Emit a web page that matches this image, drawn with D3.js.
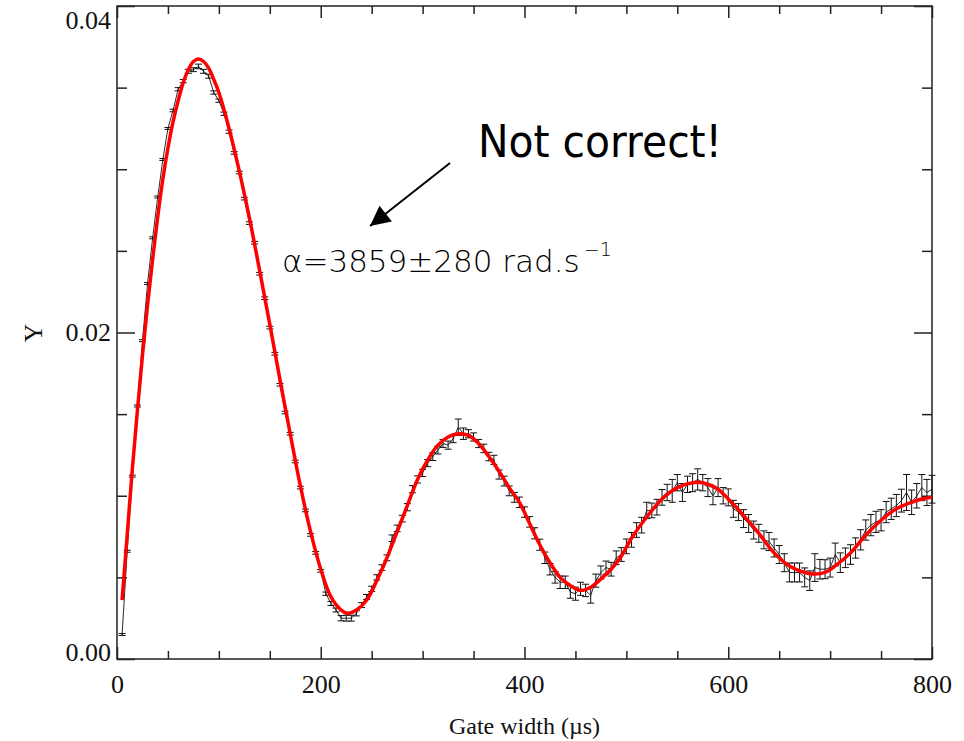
<!DOCTYPE html>
<html>
<head>
<meta charset="utf-8">
<script src="https://cdn.jsdelivr.net/npm/d3@7"></script>
<style>
  html, body { margin: 0; padding: 0; background: #fff; }
  svg { display: block; }
</style>
</head>
<body>
<svg id="chart" width="964" height="741"></svg>
<script>
// ---------------- DATA ----------------
const gateWidth = [
  5,10,15,20,25,30,35,40,45,50,55,60,65,70,75,80,85,90,95,100,
  105,110,115,120,125,130,135,140,145,150,155,160,165,170,175,180,185,190,195,200,
  205,210,215,220,225,230,235,240,245,250,255,260,265,270,275,280,285,290,295,300,
  305,310,315,320,325,330,335,340,345,350,355,360,365,370,375,380,385,390,395,400,
  405,410,415,420,425,430,435,440,445,450,455,460,465,470,475,480,485,490,495,500,
  505,510,515,520,525,530,535,540,545,550,555,560,565,570,575,580,585,590,595,600,
  605,610,615,620,625,630,635,640,645,650,655,660,665,670,675,680,685,690,695,700,
  705,710,715,720,725,730,735,740,745,750,755,760,765,770,775,780,785,790,795,800
];
const signal = [
  0.0015,0.0066,0.0112,0.0155,0.0195,0.0230,0.0258,0.0283,0.0306,0.0325,
  0.0336,0.0349,0.0354,0.0360,0.0361,0.0363,0.0360,0.0357,0.0347,0.0342,
  0.0334,0.0323,0.0310,0.0298,0.0282,0.0267,0.0255,0.0236,0.0221,0.0203,
  0.0187,0.0168,0.0151,0.0138,0.0121,0.0105,0.0091,0.0076,0.0065,0.0054,
  0.0040,0.0034,0.0030,0.0025,0.0025,0.0025,0.0028,0.0033,0.0038,0.0043,
  0.0050,0.0056,0.0062,0.0074,0.0080,0.0086,0.0093,0.0104,0.0110,0.0114,
  0.0120,0.0124,0.0128,0.0132,0.0131,0.0135,0.0142,0.0138,0.0138,0.0136,
  0.0132,0.0129,0.0124,0.0122,0.0113,0.0109,0.0103,0.0099,0.0096,0.0090,
  0.0084,0.0077,0.0070,0.0062,0.0055,0.0050,0.0047,0.0047,0.0041,0.0040,
  0.0043,0.0042,0.0039,0.0048,0.0053,0.0056,0.0055,0.0062,0.0064,0.0069,
  0.0073,0.0079,0.0082,0.0091,0.0091,0.0093,0.0099,0.0102,0.0103,0.0108,
  0.0102,0.0107,0.0108,0.0110,0.0108,0.0105,0.0100,0.0105,0.0100,0.0099,
  0.0092,0.0090,0.0086,0.0083,0.0079,0.0077,0.0073,0.0072,0.0068,0.0064,
  0.0059,0.0053,0.0053,0.0053,0.0050,0.0048,0.0056,0.0055,0.0055,0.0056,
  0.0064,0.0059,0.0062,0.0064,0.0068,0.0073,0.0079,0.0082,0.0084,0.0085,
  0.0090,0.0092,0.0094,0.0097,0.0102,0.0096,0.0100,0.0105,0.0102,0.0104
];
const signalErr = [
  0.00006,0.00006,0.00006,0.00006,0.00006,0.00006,0.00006,0.00006,0.00006,0.00006,
  0.00008,0.00010,0.00010,0.00012,0.00012,0.00014,0.00012,0.00012,0.00010,0.00010,
  0.00010,0.00010,0.00008,0.00008,0.00008,0.00008,0.00008,0.00008,0.00008,0.00008,
  0.00008,0.00008,0.00008,0.00008,0.00008,0.00008,0.00008,0.00008,0.00008,0.00008,
  0.00010,0.00012,0.00012,0.00016,0.00018,0.00018,0.00016,0.00015,0.00015,0.00016,
  0.00016,0.00017,0.00018,0.00020,0.00020,0.00020,0.00022,0.00022,0.00022,0.00022,
  0.00022,0.00024,0.00024,0.00024,0.00025,0.00025,0.00050,0.00035,0.00025,0.00025,
  0.00025,0.00026,0.00026,0.00028,0.00028,0.00030,0.00030,0.00030,0.00032,0.00032,
  0.00032,0.00034,0.00034,0.00035,0.00035,0.00035,0.00038,0.00038,0.00038,0.00040,
  0.00040,0.00038,0.00048,0.00040,0.00040,0.00040,0.00042,0.00042,0.00042,0.00045,
  0.00045,0.00045,0.00048,0.00050,0.00045,0.00048,0.00048,0.00050,0.00070,0.00050,
  0.00055,0.00050,0.00055,0.00065,0.00050,0.00055,0.00055,0.00055,0.00050,0.00052,
  0.00052,0.00052,0.00055,0.00055,0.00055,0.00055,0.00055,0.00055,0.00055,0.00055,
  0.00055,0.00058,0.00058,0.00058,0.00058,0.00060,0.00085,0.00060,0.00058,0.00058,
  0.00070,0.00060,0.00060,0.00060,0.00062,0.00062,0.00062,0.00065,0.00065,0.00065,
  0.00065,0.00065,0.00068,0.00070,0.00110,0.00075,0.00075,0.00080,0.00080,0.00085
];
const fitWidth = [
  5,10,15,20,25,30,35,40,45,50,55,60,65,70,75,80,85,90,95,100,
  110,120,130,140,150,160,170,180,190,200,210,220,227,235,245,255,265,275,285,295,
  305,315,325,335,345,355,365,375,385,395,405,415,425,435,445,455,465,475,485,495,
  505,520,535,550,565,575,590,600,615,630,645,660,675,685,695,705,720,735,750,765,
  780,790,800
];
const fitSignal = [
  0.0036,0.0076,0.0116,0.0152,0.0186,0.0217,0.0245,0.0271,0.0294,0.0313,
  0.0329,0.0342,0.0353,0.0361,0.0366,0.03675,0.0366,0.0362,0.0355,0.0347,
  0.0325,0.0299,0.0270,0.0238,0.0205,0.0171,0.0138,0.0106,0.0078,0.0055,
  0.0038,0.0030,0.0028,0.0030,0.0036,0.0048,0.0062,0.0078,0.0094,0.0110,
  0.0122,0.0131,0.0136,0.0138,0.0137,0.0132,0.0124,0.0115,0.0105,0.0096,
  0.0083,0.0070,0.0059,0.0050,0.0045,0.0042,0.0044,0.0049,0.0055,0.0063,
  0.0074,0.0087,0.0098,0.0105,0.0108,0.0108,0.0104,0.0098,0.0088,0.0077,
  0.0065,0.0057,0.0053,0.0052,0.0053,0.0057,0.0065,0.0076,0.0085,0.0092,
  0.0096,0.0098,0.0099
];
const xTickValues = [0, 200, 400, 600, 800];
const xTickLabels = ["0", "200", "400", "600", "800"];
const yTickValues = [0, 0.02, 0.04];
const yTickLabels = ["0.00", "0.02", "0.04"];
const xTitle = "Gate width (\u00b5s)";
const yTitle = "Y";
const noteText = "Not correct!";
const fitText = "\u03b1=3859\u00b1280 rad.s";
const fitSup = "\u22121";

// ---------------- LAYOUT ----------------
const svg = d3.select("#chart");
const L = 117, R = 932, T = 6, B = 659;
const x = d3.scaleLinear().domain([0, 800]).range([L, R]);
const y = d3.scaleLinear().domain([0, 0.04]).range([B, T]);
const axisColor = "#222";
const serif = "'Liberation Serif','Times New Roman',serif";

// frame
svg.append("rect").attr("x", L).attr("y", T).attr("width", R - L).attr("height", B - T)
  .attr("fill", "none").attr("stroke", axisColor).attr("stroke-width", 1.5);

function styleAxis(g) {
  g.select(".domain").remove();
  g.selectAll(".tick line").attr("stroke", axisColor).attr("stroke-width", 1.5);
}

const xMinor = x.ticks(16).filter(v => !xTickValues.includes(v));
const yMinor = y.ticks(8).filter(v => !yTickValues.some(t => Math.abs(t - v) < 1e-9));

// bottom axis
svg.append("g").attr("transform", `translate(0,${B})`)
  .call(d3.axisBottom(x).tickValues(xMinor).tickSize(-8).tickFormat("")).call(styleAxis);
const xb = svg.append("g").attr("transform", `translate(0,${B})`)
  .call(d3.axisBottom(x).tickValues(xTickValues).tickSize(-12).tickPadding(16)
    .tickFormat((d, i) => xTickLabels[i])).call(styleAxis);
xb.attr("font-family", serif).attr("font-size", 26);
xb.selectAll("text").attr("fill", "#111");
// top axis
svg.append("g").attr("transform", `translate(0,${T})`)
  .call(d3.axisTop(x).tickValues(xMinor).tickSize(-8).tickFormat("")).call(styleAxis);
svg.append("g").attr("transform", `translate(0,${T})`)
  .call(d3.axisTop(x).tickValues(xTickValues).tickSize(-12).tickFormat("")).call(styleAxis);
// left axis
svg.append("g").attr("transform", `translate(${L},0)`)
  .call(d3.axisLeft(y).tickValues(yMinor).tickSize(-10).tickFormat("")).call(styleAxis);
const yl = svg.append("g").attr("transform", `translate(${L},0)`)
  .call(d3.axisLeft(y).tickValues(yTickValues).tickSize(-18).tickPadding(6)
    .tickFormat((d, i) => yTickLabels[i])).call(styleAxis);
yl.attr("font-family", serif).attr("font-size", 26);
yl.selectAll("text").attr("fill", "#111")
  .attr("dy", (d) => d === 0.04 ? "0.86em" : (d === 0 ? "0.06em" : "0.32em"));
// right axis
svg.append("g").attr("transform", `translate(${R},0)`)
  .call(d3.axisRight(y).tickValues(yMinor).tickSize(-10).tickFormat("")).call(styleAxis);
svg.append("g").attr("transform", `translate(${R},0)`)
  .call(d3.axisRight(y).tickValues(yTickValues).tickSize(-18).tickFormat("")).call(styleAxis);

// titles
svg.append("text").attr("x", (L + R) / 2).attr("y", 734).attr("text-anchor", "middle")
  .attr("font-family", serif).attr("font-size", 24).attr("fill", "#111").text(xTitle);
svg.append("text").attr("transform", "translate(42,333) rotate(-90)").attr("text-anchor", "middle")
  .attr("font-family", serif).attr("font-size", 26).attr("fill", "#111").text(yTitle);

// ---------------- DATA MARKS ----------------
const pts = gateWidth.map((t, i) => ({ t, v: signal[i], e: signalErr[i] }));
const eb = svg.append("g").attr("stroke", "#111").attr("stroke-width", 1).attr("fill", "none");
pts.forEach(p => {
  const cx = x(p.t), y1 = y(p.v + p.e), y2 = y(p.v - p.e);
  eb.append("line").attr("x1", cx).attr("x2", cx).attr("y1", y1).attr("y2", y2);
  eb.append("line").attr("x1", cx - 3.5).attr("x2", cx + 3.5).attr("y1", y1).attr("y2", y1);
  eb.append("line").attr("x1", cx - 3.5).attr("x2", cx + 3.5).attr("y1", y2).attr("y2", y2);
});
svg.append("path").datum(pts)
  .attr("d", d3.line().x(d => x(d.t)).y(d => y(d.v)))
  .attr("fill", "none").attr("stroke", "#111").attr("stroke-width", 0.9);

const fitPts = fitWidth.map((t, i) => ({ t, v: fitSignal[i] }));
svg.append("path").datum(fitPts)
  .attr("d", d3.line().x(d => x(d.t)).y(d => y(d.v)).curve(d3.curveCatmullRom))
  .attr("fill", "none").attr("stroke", "#ff0000").attr("stroke-width", 3.5)
  .attr("stroke-linejoin", "round");

// ---------------- ANNOTATIONS ----------------
svg.append("text").attr("x", 478).attr("y", 157)
  .attr("font-family", "'DejaVu Sans',Verdana,sans-serif").attr("font-size", 45)
  .attr("textLength", 244).attr("lengthAdjust", "spacingAndGlyphs")
  .attr("fill", "#000").text(noteText);

const defs = svg.append("defs");
defs.append("marker").attr("id", "ah").attr("viewBox", "0 0 10 10")
  .attr("refX", 10).attr("refY", 5).attr("markerWidth", 24).attr("markerHeight", 20)
  .attr("markerUnits", "userSpaceOnUse").attr("orient", "auto")
  .append("path").attr("d", "M0,0 L10,5 L0,10 z").attr("fill", "#000");
svg.append("line").attr("x1", 450).attr("y1", 163).attr("x2", 370).attr("y2", 226)
  .attr("stroke", "#000").attr("stroke-width", 2).attr("marker-end", "url(#ah)");

const annoFont = "'DejaVu Sans','Liberation Sans',sans-serif";
const fitLabel = svg.append("text").attr("x", 282).attr("y", 272)
  .attr("font-family", annoFont).attr("font-weight", 200)
  .attr("font-size", 31).attr("fill", "#000");
fitLabel.append("tspan").text(fitText);
fitLabel.append("tspan").attr("dx", 4).attr("dy", -16).attr("font-size", 19).text(fitSup);
</script>
</body>
</html>
